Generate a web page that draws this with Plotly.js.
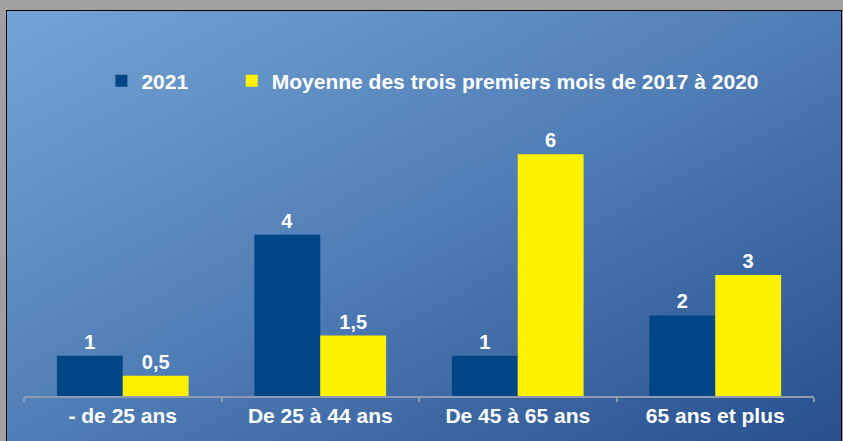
<!DOCTYPE html>
<html>
<head>
<meta charset="utf-8">
<script src="https://cdn.plot.ly/plotly-3.0.1.min.js"></script>
<style>
  html, body { margin: 0; padding: 0; width: 843px; height: 441px; overflow: hidden; background: #a0a0a0; }
  #bg { position: absolute; left: 6px; top: 10px; width: 836px; height: 440px; box-sizing: border-box;
        border: 1.5px solid #000;
        background: linear-gradient(to bottom right, #74a4d5 0%, #4f7db5 50%, #284e8d 100%); }
  #chart { position: absolute; left: 0; top: 0; width: 843px; height: 441px; }
</style>
</head>
<body>
<div id="bg"></div>
<div id="chart"></div>
<script>
const categories = ["- de 25 ans", "De 25 à 44 ans", "De 45 à 65 ans", "65 ans et plus"];
const seriesNames = ["2021", "Moyenne des trois premiers mois de 2017 à 2020"];
const values2021 = [1, 4, 1, 2];
const valuesAvg = [0.5, 1.5, 6, 3];
const colors = ["#004586", "#fff200"];

const fmt = v => String(v).replace(".", ",");
const mkFont = s => ({ family: "Liberation Sans, Arial, sans-serif", size: s, color: "#ffffff", weight: "bold" });

const traces = [values2021, valuesAvg].map((vals, i) => ({
  type: "bar",
  name: seriesNames[i],
  legend: i === 0 ? "legend" : "legend2",
  x: categories,
  y: vals,
  marker: { color: colors[i], line: { width: 0 } },
  text: vals.map(fmt),
  textposition: "outside",
  textfont: mkFont(20),
  cliponaxis: false,
  hoverinfo: "none"
}));

const legendBase = {
  orientation: "h",
  yanchor: "middle",
  y: 1.184,
  xanchor: "left",
  font: mkFont(21),
  bgcolor: "rgba(0,0,0,0)",
  borderwidth: 0
};

const layout = {
  width: 843,
  height: 441,
  paper_bgcolor: "rgba(0,0,0,0)",
  plot_bgcolor: "rgba(0,0,0,0)",
  margin: { l: 24, r: 29, t: 130, b: 45, pad: 0 },
  barmode: "group",
  bargap: 0.333,
  bargroupgap: 0,
  showlegend: true,
  legend: Object.assign({}, legendBase, { x: 0.098 }),
  legend2: Object.assign({}, legendBase, { x: 0.263 }),
  xaxis: {
    type: "category",
    range: [-0.5, 3.5],
    showline: true,
    linecolor: "#8e9bb0",
    linewidth: 2,
    ticks: "outside",
    tickson: "boundaries",
    ticklen: 4,
    tickwidth: 2,
    tickcolor: "#8e9bb0",
    tickfont: mkFont(21),
    showgrid: false,
    zeroline: false,
    fixedrange: true
  },
  yaxis: {
    range: [0, 6.6],
    visible: false,
    showgrid: false,
    zeroline: false,
    fixedrange: true
  }
};

Plotly.newPlot("chart", traces, layout, { displayModeBar: false, staticPlot: true });
</script>
</body>
</html>
